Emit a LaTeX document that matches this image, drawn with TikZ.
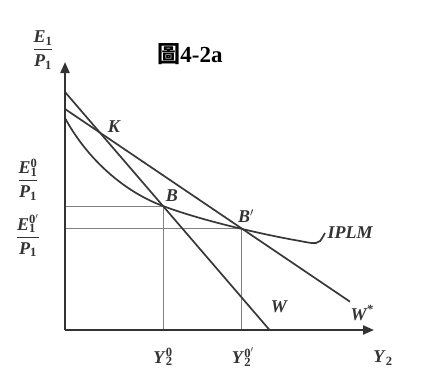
\documentclass[tikz,border=0pt]{standalone}
\usepackage{fontspec}
\setmainfont{Liberation Serif}
\newfontfamily\cjkfont{Noto Sans CJK TC}
\usetikzlibrary{arrows.meta}
\newcommand{\subsup}[3]{\textit{#1}\rlap{\textsubscript{#2}}\textsuperscript{#3}}
\newcommand{\myfrac}[2]{\begin{tabular}{@{}c@{}}#1\\[1pt]\hline\rule{0pt}{17pt}#2\end{tabular}}
\begin{document}
\begin{tikzpicture}[x=1pt,y=-1pt,
  axisline/.style={line width=2.1pt, draw=black!80, -{Triangle[length=11pt,width=9pt]}},
  mainline/.style={line width=1.7pt, draw=black!78},
  guide/.style={line width=0.9pt, draw=black!50},
  lbl/.style={font=\fontsize{18}{18}\selectfont\bfseries\itshape, inner sep=0pt, text=black!80},
  axlbl/.style={font=\fontsize{18}{18}\selectfont\bfseries, inner sep=0pt, text=black!80},
  fraclbl/.style={font=\fontsize{18}{18}\selectfont\bfseries, inner sep=0pt, text=black!80},
  titlelbl/.style={font=\fontsize{23}{23}\selectfont\bfseries, inner sep=0pt}
]
\useasboundingbox[fill=white] (0,0) rectangle (421,378);

% key coordinates
\coordinate (O) at (65,330);
\coordinate (Ytop) at (65,62);
\coordinate (Xend) at (374,330);
\coordinate (Wtop) at (65,92);
\coordinate (Wbot) at (269.6,330);
\coordinate (Vtop) at (65,109);
\coordinate (Vend) at (350,301.7);
\coordinate (B) at (163,206);
\coordinate (Bp) at (241,228);
\coordinate (Ctop) at (65,118);
\coordinate (Cmid) at (300,241);
\coordinate (Cflat) at (316,243);
\coordinate (Cend) at (325,233);
\coordinate (BL) at (65,206);
\coordinate (BpL) at (65,228);
\coordinate (BX) at (163,330);
\coordinate (BpX) at (241,330);

% guide lines
\draw[guide] (BL) -- (B) -- (BX);
\draw[guide] (BpL) -- (Bp) -- (BpX);

% budget lines
\draw[mainline] (Wtop) -- (Wbot);
\draw[mainline] (Vtop) -- (Vend);

% IPLM curve
\draw[mainline] (Ctop) .. controls (85,155) and (120,190) .. (B)
  .. controls (200,220) and (260,234) .. (Cmid)
  .. controls (308,242.5) and (312,243.5) .. (Cflat)
  .. controls (320,242) .. (Cend);

% axes
\draw[axisline] (O) -- (Ytop);
\draw[axisline] (O) -- (Xend);

% labels
\node[titlelbl] (title) at (190,54) {{\cjkfont 圖}4-2a};
\node[fraclbl] (ylab) at (43,51) {\myfrac{\textit{E}\textsubscript{1}}{\textit{P}\textsubscript{1}}};
\node[fraclbl] (e0) at (28,181) {\myfrac{\subsup{E}{1}{0}}{\textit{P}\textsubscript{1}}};
\node[fraclbl] (e0p) at (28,237) {\myfrac{\subsup{E}{1}{0$'$}}{\textit{P}\textsubscript{1}}};
\node[lbl] (K) at (114,127) {K};
\node[lbl] (Bl) at (172,196) {B};
\node[lbl] (Bpl) at (246,216) {B$'$};
\node[lbl] (iplm) at (350,233) {IPLM};
\node[lbl] (Wl) at (279,307) {W};
\node[lbl] (Wsl) at (362,313) {W\textsuperscript{*}};
\node[axlbl] (y0) at (163,357) {\subsup{Y}{2}{0}};
\node[axlbl] (y0p) at (243,357) {\subsup{Y}{2}{0$'$}};
\node[axlbl] (y2) at (383,358) {\textit{Y}\textsubscript{2}};
\end{tikzpicture}
\end{document}
